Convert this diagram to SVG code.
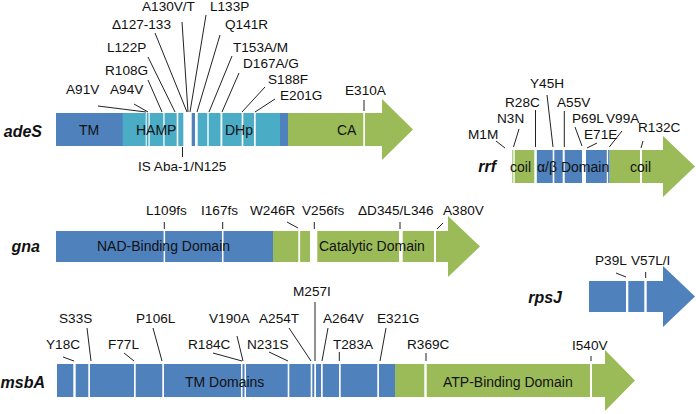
<svg xmlns="http://www.w3.org/2000/svg" width="696" height="414" viewBox="0 0 696 414">
<style>
text{font-family:"Liberation Sans",Arial,sans-serif;font-size:13.6px;fill:#111}
.dom{font-size:14px}
.gene{font-weight:bold;font-style:italic;font-size:16px;text-anchor:end}
.db{fill:#4f81bd}
.lb{fill:#4bacc6}
.gr{fill:#9bbb59}
.w{fill:#fff}
#connectors line{stroke:#222;stroke-width:1}
</style>
<rect width="696" height="414" fill="#fff"/>
<g id="adeS">
<rect class="db" x="56" y="113" width="67" height="33"/>
<rect class="lb" x="122.7" y="113" width="157.3" height="33"/>
<rect class="db" x="280" y="113" width="8" height="33"/>
<rect class="gr" x="288" y="113" width="94.5" height="33"/>
<polygon class="gr" points="382,99 413,129.5 382,160"/>
<rect class="w" x="145.7" y="113" width="1" height="33"/>
<rect class="w" x="148.5" y="113" width="1.2" height="33"/>
<rect class="w" x="163.3" y="113" width="1.3" height="33"/>
<rect class="w" x="176.7" y="113" width="1.6" height="33"/>
<rect class="w" x="183.3" y="113" width="14.4" height="33"/>
<rect class="db" x="191.7" y="113" width="3.3" height="33"/>
<rect class="w" x="207.3" y="113" width="1.4" height="33"/>
<rect class="w" x="220.5" y="113" width="1.8" height="33"/>
<rect class="w" x="241.7" y="113" width="1.6" height="33"/>
<rect class="w" x="254" y="113" width="1.7" height="33"/>
<rect class="w" x="363.3" y="113" width="1.7" height="33"/>
<text class="gene" x="42" y="137">adeS</text>
<text class="dom" x="89" y="135" text-anchor="middle">TM</text>
<text class="dom" x="136" y="135">HAMP</text>
<text class="dom" x="225" y="135">DHp</text>
<text class="dom" x="337" y="135">CA</text>
<text x="66" y="94">A91V</text>
<text x="110" y="94">A94V</text>
<text x="105" y="75">R108G</text>
<text x="107" y="52">L122P</text>
<text x="112" y="29">Δ127-133</text>
<text x="142" y="11">A130V/T</text>
<text x="210" y="11">L133P</text>
<text x="225" y="29">Q141R</text>
<text x="233" y="52">T153A/M</text>
<text x="243" y="68">D167A/G</text>
<text x="268" y="84">S188F</text>
<text x="280" y="100">E201G</text>
<text x="345" y="95">E310A</text>
<text x="138" y="171">IS Aba-1/N125</text>
</g>
<g id="rrf">
<rect class="gr" x="512.3" y="150" width="24.4" height="33"/>
<rect class="db" x="536.7" y="150" width="73" height="33"/>
<rect class="gr" x="609.7" y="150" width="53.8" height="33"/>
<polygon class="gr" points="663,136 695,166.5 663,197"/>
<rect class="w" x="513.3" y="150" width="1.4" height="33"/>
<rect class="w" x="534.3" y="150" width="2.4" height="33"/>
<rect class="w" x="552.7" y="150" width="1.6" height="33"/>
<rect class="w" x="562.7" y="150" width="2" height="33"/>
<rect class="w" x="582" y="150" width="4" height="33"/>
<rect class="w" x="606.8" y="150" width="1.3" height="33"/>
<rect class="w" x="640" y="150" width="2" height="33"/>
<text class="gene" x="496" y="172">rrf</text>
<text class="dom" x="510" y="172">coil</text>
<text class="dom" x="537" y="172">α/β Domain</text>
<text class="dom" x="630" y="172">coil</text>
<text x="468" y="139">M1M</text>
<text x="497" y="123">N3N</text>
<text x="505" y="107">R28C</text>
<text x="530" y="88">Y45H</text>
<text x="557" y="107">A55V</text>
<text x="572" y="123">P69L</text>
<text x="606" y="123">V99A</text>
<text x="584" y="139">E71E</text>
<text x="638" y="132">R132C</text>
</g>
<g id="gna">
<rect class="db" x="56" y="231" width="217" height="31"/>
<rect class="gr" x="273" y="231" width="175.5" height="31"/>
<polygon class="gr" points="448,216 480,246.5 448,277"/>
<rect class="w" x="163.6" y="231" width="1.5" height="31"/>
<rect class="w" x="222" y="231" width="1.5" height="31"/>
<rect class="w" x="298.3" y="231" width="1.8" height="31"/>
<rect class="w" x="310" y="231" width="7.3" height="31"/>
<rect class="w" x="399" y="231" width="3.7" height="31"/>
<rect class="w" x="434" y="231" width="2" height="31"/>
<text class="gene" x="40" y="252">gna</text>
<text class="dom" x="97" y="251">NAD-Binding Domain</text>
<text class="dom" x="319" y="251">Catalytic Domain</text>
<text x="146" y="215">L109fs</text>
<text x="201" y="215">I167fs</text>
<text x="250" y="215">W246R</text>
<text x="302" y="215">V256fs</text>
<text x="358" y="215">ΔD345/L346</text>
<text x="443" y="215">A380V</text>
</g>
<g id="rpsJ">
<rect class="db" x="589" y="281" width="74.5" height="31"/>
<polygon class="db" points="663,266 695,296.5 663,327"/>
<rect class="w" x="626" y="281" width="2.3" height="31"/>
<rect class="w" x="644.3" y="281" width="2.4" height="31"/>
<text class="gene" x="562" y="303">rpsJ</text>
<text x="595" y="265">P39L</text>
<text x="631" y="265">V57L/I</text>
</g>
<g id="msbA">
<rect class="db" x="57" y="364" width="338" height="33"/>
<rect class="gr" x="395" y="364" width="210.5" height="33"/>
<polygon class="gr" points="605,350 635,380.5 605,411"/>
<rect class="w" x="73.3" y="364" width="2.4" height="33"/>
<rect class="w" x="88.3" y="364" width="1.7" height="33"/>
<rect class="w" x="134" y="364" width="1.7" height="33"/>
<rect class="w" x="162.3" y="364" width="1.7" height="33"/>
<rect class="w" x="241" y="364" width="1.5" height="33"/>
<rect class="w" x="244.5" y="364" width="1.5" height="33"/>
<rect class="w" x="287.7" y="364" width="1.6" height="33"/>
<rect class="w" x="310.7" y="364" width="1.6" height="33"/>
<rect class="w" x="314.3" y="364" width="1.7" height="33"/>
<rect class="w" x="321" y="364" width="1.7" height="33"/>
<rect class="w" x="339" y="364" width="1.7" height="33"/>
<rect class="w" x="377.3" y="364" width="1.7" height="33"/>
<rect class="w" x="424.3" y="364" width="2.4" height="33"/>
<rect class="w" x="590" y="364" width="2" height="33"/>
<text class="gene" x="45" y="388">msbA</text>
<text class="dom" x="185" y="387">TM Domains</text>
<text class="dom" x="443" y="387">ATP-Binding Domain</text>
<text x="46" y="349">Y18C</text>
<text x="59" y="323">S33S</text>
<text x="108" y="349">F77L</text>
<text x="136" y="323">P106L</text>
<text x="188" y="349">R184C</text>
<text x="209" y="323">V190A</text>
<text x="247" y="349">N231S</text>
<text x="259" y="323">A254T</text>
<text x="293" y="296">M257I</text>
<text x="323" y="323">A264V</text>
<text x="333" y="349">T283A</text>
<text x="377" y="323">E321G</text>
<text x="407" y="349">R369C</text>
<text x="572" y="350">I540V</text>
</g>
<g id="connectors">
<line x1="98" y1="106" x2="146" y2="112"/>
<line x1="134" y1="104" x2="148" y2="112"/>
<line x1="148" y1="80" x2="162" y2="112"/>
<line x1="148" y1="57" x2="175" y2="112"/>
<line x1="155" y1="33" x2="187" y2="112"/>
<line x1="182" y1="22" x2="188" y2="112"/>
<line x1="206" y1="15" x2="190" y2="112"/>
<line x1="220" y1="35" x2="197" y2="112"/>
<line x1="232" y1="56" x2="209" y2="112"/>
<line x1="239" y1="73" x2="222" y2="112"/>
<line x1="265" y1="87" x2="242" y2="112"/>
<line x1="275" y1="99" x2="255" y2="112"/>
<line x1="364" y1="100" x2="364" y2="111"/>
<line x1="182.5" y1="147" x2="182.5" y2="157"/>
<line x1="496" y1="141" x2="505" y2="148"/>
<line x1="519" y1="129" x2="513.5" y2="147"/>
<line x1="535.5" y1="110" x2="535.5" y2="147"/>
<line x1="547" y1="95" x2="553" y2="147"/>
<line x1="564.3" y1="111" x2="564.3" y2="147"/>
<line x1="575" y1="127" x2="582" y2="146"/>
<line x1="597" y1="143" x2="587" y2="148"/>
<line x1="622" y1="131" x2="609.3" y2="147"/>
<line x1="643" y1="141" x2="641" y2="148"/>
<line x1="164.3" y1="222" x2="164.3" y2="229"/>
<line x1="222.7" y1="222" x2="222.7" y2="229"/>
<line x1="287" y1="222" x2="298" y2="228"/>
<line x1="314.3" y1="222" x2="314.3" y2="229"/>
<line x1="400" y1="222" x2="400" y2="229"/>
<line x1="443" y1="223" x2="437" y2="229"/>
<line x1="616" y1="273" x2="626" y2="277"/>
<line x1="645.7" y1="272" x2="645.7" y2="278"/>
<line x1="63" y1="357" x2="74" y2="361"/>
<line x1="87" y1="328" x2="91" y2="361"/>
<line x1="124" y1="353" x2="134" y2="361"/>
<line x1="153" y1="328" x2="162" y2="361"/>
<line x1="213" y1="353" x2="242" y2="361"/>
<line x1="237" y1="336" x2="243" y2="361"/>
<line x1="269" y1="352" x2="288" y2="361"/>
<line x1="289" y1="328" x2="311" y2="361"/>
<line x1="315" y1="302" x2="315" y2="361"/>
<line x1="328" y1="328" x2="322" y2="361"/>
<line x1="339.3" y1="352" x2="339.3" y2="361"/>
<line x1="386" y1="328" x2="380" y2="361"/>
<line x1="426" y1="353" x2="426" y2="361"/>
<line x1="591" y1="356" x2="591" y2="361"/>
</g>
</svg>
